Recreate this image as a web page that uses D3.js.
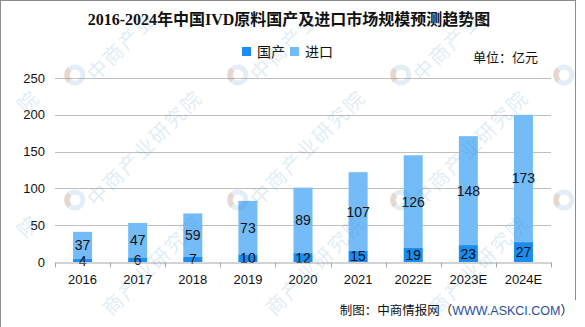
<!DOCTYPE html>
<html><head><meta charset="utf-8">
<script src="https://cdn.jsdelivr.net/npm/d3@7/dist/d3.min.js"></script>
<style>
html,body{margin:0;padding:0;background:#fff;}
svg{display:block;}
</style></head>
<body><svg id="c" width="585" height="327"></svg>
<script>
const categories = ["2016","2017","2018","2019","2020","2021","2022E","2023E","2024E"];
const domestic = [4,6,7,10,12,15,19,23,27];
const imported = [37,47,59,73,89,107,126,148,173];
const yTicks = [0,50,100,150,200,250];
const seriesNames = ["国产","进口"];
const colors = ["#1a8df0","#73bcf8"];

const svg = d3.select("#c");
const W = 585, H = 327;
const m = {left:55, right:34, top:78, bottom:65};
const x = d3.scaleBand().domain(categories).range([m.left, W - m.right]).paddingInner(0.655).paddingOuter(0.3275);
const y = d3.scaleLinear().domain([0,250]).range([262, 78]);

const sans = "'Liberation Sans', Arial, 'Noto Sans CJK SC', sans-serif";
const cjk = "'Noto Sans CJK SC', 'Liberation Sans', sans-serif";

// frame
svg.append("line").attr("x1",0.5).attr("x2",0.5).attr("y1",0).attr("y2",H).attr("stroke","#8c8c8c");
svg.append("line").attr("x1",0).attr("x2",576).attr("y1",0.5).attr("y2",0.5).attr("stroke","#8c8c8c");
svg.append("line").attr("x1",575.5).attr("x2",575.5).attr("y1",0).attr("y2",300).attr("stroke","#8c8c8c");

// title
svg.append("text").attr("x",289).attr("y",25).attr("text-anchor","middle")
  .attr("font-family","'Liberation Serif','DejaVu Serif','Noto Sans CJK SC',serif").attr("font-weight","bold")
  .attr("font-size",16).attr("fill","#111")
  .text("2016-2024年中国IVD原料国产及进口市场规模预测趋势图");

// legend
const leg = [{x:242, t:seriesNames[0], c:colors[0]},{x:290, t:seriesNames[1], c:colors[1]}];
leg.forEach(l=>{
  svg.append("rect").attr("x",l.x).attr("y",47).attr("width",9).attr("height",9).attr("fill",l.c);
  svg.append("text").attr("x",l.x+15).attr("y",56.5).attr("font-family",cjk).attr("font-size",14).attr("fill","#111").text(l.t);
});
svg.append("text").attr("x",473).attr("y",62).attr("font-family",cjk).attr("font-size",13).attr("fill","#111").text("单位：亿元");

// grid
svg.append("g").selectAll("line").data(yTicks.filter(d=>d>0)).join("line")
  .attr("x1",m.left).attr("x2",W-m.right).attr("y1",d=>Math.round(y(d))+0.5).attr("y2",d=>Math.round(y(d))+0.5)
  .attr("stroke","#bfbfbf");

// y axis labels
const yAxis = d3.axisLeft(y).tickValues(yTicks).tickSize(0).tickPadding(10);
const ya = svg.append("g").attr("transform",`translate(${m.left},0)`).call(yAxis);
ya.select(".domain").remove();
ya.selectAll("text").attr("font-family",sans).attr("font-size",13).attr("fill","#111");

// bars
const stacked = categories.map((c,i)=>({c, d:domestic[i], m:imported[i]}));
const g = svg.append("g");
g.selectAll("rect.imp").data(stacked).join("rect").attr("class","imp")
  .attr("x",d=>x(d.c)).attr("width",x.bandwidth())
  .attr("y",d=>y(d.d+d.m)).attr("height",d=>y(d.d)-y(d.d+d.m)).attr("fill",colors[1]);
g.selectAll("rect.dom").data(stacked).join("rect").attr("class","dom")
  .attr("x",d=>x(d.c)).attr("width",x.bandwidth())
  .attr("y",d=>y(d.d)).attr("height",d=>y(0)-y(d.d)).attr("fill",colors[0]);

// x axis
const xAxis = d3.axisBottom(x).tickSize(0).tickPadding(12);
const xa = svg.append("g").attr("transform",`translate(0,${Math.round(y(0))+0.5})`).call(xAxis);
xa.select(".domain").attr("stroke","#a6a6a6");
xa.selectAll("text").attr("font-family",sans).attr("font-size",13).attr("fill","#111");
const bounds = categories.map(c=>x(c)-x.step()*x.paddingInner()/2).concat([W-m.right]);
xa.selectAll("line.sep").data(bounds).join("line").attr("class","sep")
  .attr("x1",d=>Math.round(d)+0.5).attr("x2",d=>Math.round(d)+0.5).attr("y1",0).attr("y2",5).attr("stroke","#a6a6a6");

// labels
g.selectAll("text.li").data(stacked).join("text").attr("class","li")
  .attr("x",d=>x(d.c)+x.bandwidth()/2).attr("y",d=>y(d.d+d.m/2)+5)
  .attr("text-anchor","middle").attr("font-family",sans).attr("font-size",14).attr("fill","#111").text(d=>d.m);
g.selectAll("text.ld").data(stacked).join("text").attr("class","ld")
  .attr("x",d=>x(d.c)+x.bandwidth()/2).attr("y",d=>y(d.d/2)+5)
  .attr("text-anchor","middle").attr("font-family",sans).attr("font-size",14).attr("fill","#111").text(d=>d.d);

// footer
const ft = svg.append("text").attr("x",573).attr("y",315).attr("text-anchor","end").attr("font-family",cjk).attr("font-size",12.5).attr("fill","#111");
ft.append("tspan").text("制图：中商情报网（");
ft.append("tspan").attr("fill","#1f4fa0").attr("font-family",sans).text("WWW.ASKCI.COM");
ft.append("tspan").text("）");

// watermarks (drawn per character, only those fully inside the picture)
const wm = svg.append("g").attr("pointer-events","none");
const wmChars = Array.from("中商产业研究院");
const step = 15.5; // per-axis offset per character
for (let i=-1;i<4;i++){
  for (let j=0;j<3;j++){
    const cx = 75 + 163*i, cy = 75 + 125*j;
    if (cx > 10 && cx < W-10 && cy < H-10) {
      const w = wm.append("g").attr("transform",`translate(${cx},${cy}) rotate(-45)`);
      w.append("circle").attr("r",8).attr("fill","none").attr("stroke","#4a90c8").attr("stroke-width",5).attr("opacity",0.16);
      w.append("path").attr("d",d3.arc()({innerRadius:5,outerRadius:11,startAngle:-Math.PI/2,endAngle:0})).attr("fill","#f08040").attr("opacity",0.2);
    }
    wmChars.forEach((ch,k)=>{
      const px = cx + 14 + step*(k+0.5), py = cy - step*(k+0.5) + 2;
      if (px < 14 || px > W-14 || py < 14 || py > H-14) return;
      wm.append("text").attr("transform",`translate(${px},${py}) rotate(-45)`)
        .attr("text-anchor","middle").attr("dominant-baseline","central")
        .attr("font-family",cjk).attr("font-size",20)
        .attr("fill","#4a90c8").attr("opacity",0.16).text(ch);
    });
  }
}
</script></body></html>
